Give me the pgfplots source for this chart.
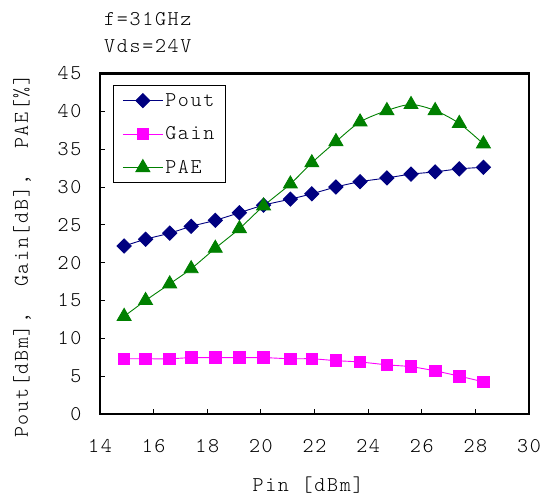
\documentclass[border=0pt]{standalone}
\usepackage{fontspec}
\newfontfamily\mono{Latin Modern Mono Light}[LetterSpace=8]
\usepackage{pgfplots}
\usepackage{pgfplotstable}
\pgfplotsset{compat=1.18}
\definecolor{pout}{RGB}{0,0,128}
\definecolor{gain}{RGB}{255,0,255}
\definecolor{pae}{RGB}{0,128,0}
\pgfplotstableread{
pin pout gain pae
14.9 22.2 7.3 12.9
15.7 23.1 7.3 15.0
16.6 23.9 7.3 17.2
17.4 24.8 7.45 19.2
18.3 25.6 7.45 21.9
19.2 26.6 7.45 24.5
20.1 27.6 7.45 27.5
21.1 28.4 7.3 30.4
21.9 29.1 7.3 33.2
22.8 30.0 7.05 36.0
23.7 30.7 6.87 38.6
24.7 31.2 6.5 40.1
25.6 31.7 6.25 40.9
26.5 32.0 5.7 40.1
27.4 32.4 5.0 38.4
28.3 32.6 4.25 35.7
}\data
\newcommand{\fnt}{\mono\fontsize{21bp}{24bp}\selectfont}
\begin{document}
\begin{tikzpicture}
\path[use as bounding box] (-100bp,-81bp) rectangle (442bp,414bp);
\begin{axis}[
 at={(0,0)}, anchor=south west,
 scale only axis, width=429bp, height=340.5bp,
 xmin=14, xmax=30, ymin=0, ymax=45,
 xtick={14,16,...,30}, ytick={0,5,...,45},
 axis line style={line width=2.2bp},
 tick style={black, line width=0.8bp},
 major tick length=5bp,
 tick align=inside,
 tick pos=left,
 /pgf/number format/assume math mode=true,
 tick label style={font=\fnt},
 xticklabel style={yshift=-22bp},
 yticklabel style={xshift=-15bp},
 xlabel={Pin [dBm]},
 ylabel={Pout[dBm],~~Gain[dB],~~PAE[\%]},
 label style={font=\fnt},
 xlabel style={at={(rel axis cs:0.485,0)}, anchor=center, yshift=-71bp},
 ylabel style={at={(rel axis cs:0,0.464)}, anchor=center, yshift=78bp},
 legend style={at={(0.0303,0.966)}, anchor=north west, draw=black, line width=0.8bp,
   font=\fnt, inner xsep=9bp, inner ysep=6bp, row sep=15bp,
   cells={anchor=west}},
 legend image code/.code={\draw[mark repeat=2,mark phase=2] plot coordinates {(0bp,0bp) (20bp,0bp) (40bp,0bp)};},
 every axis plot/.append style={line width=0.9bp, smooth, tension=0.5},
 clip=false,
]
\addplot[color=pout, mark=square*, mark size=5bp, mark options={rotate=45, solid, fill=pout}] table[x=pin,y=pout] {\data};
\addlegendentry{Pout}
\addplot[color=gain, mark=square*, mark size=5.8bp, mark options={solid, fill=gain}] table[x=pin,y=gain] {\data};
\addlegendentry{Gain}
\addplot[color=pae, mark=triangle*, mark size=8bp, mark options={solid, fill=pae}] table[x=pin,y=pae] {\data};
\addlegendentry{PAE}
\end{axis}
\node[anchor=base west, inner sep=0pt, font=\fnt] at (4bp,388bp) {f=31GHz};
\node[anchor=base west, inner sep=0pt, font=\fnt] at (4bp,361bp) {Vds=24V};
\end{tikzpicture}
\end{document}
